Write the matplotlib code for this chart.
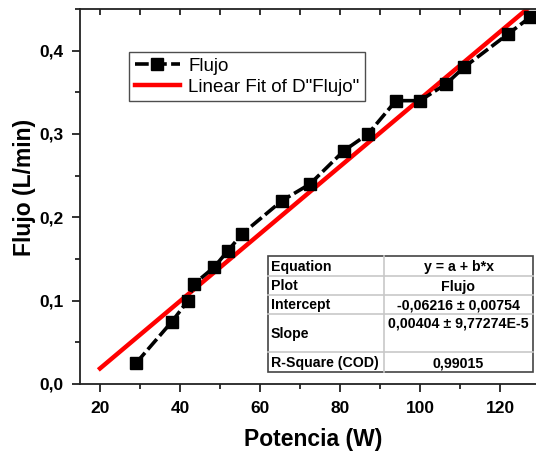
import numpy as np
import matplotlib
matplotlib.use("Agg")
import matplotlib.pyplot as plt
from matplotlib.ticker import MultipleLocator

plt.rcParams['font.family'] = ['Liberation Sans', 'DejaVu Sans']

# datos
potencia = [29, 38, 42, 43.5, 48.5, 52, 55.5, 65.5, 72.5, 81, 87, 94, 100, 106.5, 111, 122, 127.5]
flujo = [0.025, 0.075, 0.10, 0.12, 0.14, 0.16, 0.18, 0.22, 0.24, 0.28, 0.30, 0.34, 0.34, 0.36, 0.38, 0.42, 0.44]

intercept = -0.06216
slope = 0.00404
fit_x = [20, 130]

xticks = [20, 40, 60, 80, 100, 120]
yticks = [0.0, 0.1, 0.2, 0.3, 0.4]
ytick_labels = ['0,0', '0,1', '0,2', '0,3', '0,4']

table_rows = [
    ("Equation", "y = a + b*x"),
    ("Plot", "Flujo"),
    ("Intercept", "-0,06216 \u00b1 0,00754"),
    ("Slope", "0,00404 \u00b1 9,77274E-5"),
    ("R-Square (COD)", "0,99015"),
]

W, H = 536, 455
fig = plt.figure(figsize=(W / 100, H / 100), dpi=100)
ax = fig.add_axes([80 / W, (H - 384) / H, 456 / W, 375 / H])

fx = np.array(fit_x, dtype=float)
ax.plot(potencia, flujo, color='black', lw=2.6, ls=(0, (3.8, 1.2)),
        marker='s', ms=8.5, label='Flujo', zorder=3)
ax.plot(fx, intercept + slope * fx, color='red', lw=3.2, label='Linear Fit of D"Flujo"', zorder=2)

ax.set_xlim(15, 129)
ax.set_ylim(0, 0.45)
ax.set_xticks(xticks)
ax.set_xticklabels([str(t) for t in xticks])
ax.set_yticks(yticks)
ax.set_yticklabels(ytick_labels)
ax.xaxis.set_minor_locator(MultipleLocator(10))
ax.yaxis.set_minor_locator(MultipleLocator(0.05))

for s in ['left', 'bottom']:
    ax.spines[s].set_linewidth(1.3)
    ax.spines[s].set_color('#222222')
ax.spines['right'].set_visible(False)
ax.spines['top'].set_linewidth(1.3)
ax.spines['top'].set_color('#222222')

ax.tick_params(which='major', direction='out', length=6, width=1.3, labelsize=12.5, color='#222222', pad=6)
ax.tick_params(which='minor', direction='out', length=3.5, width=1.3, color='#222222')
for lab in ax.get_xticklabels() + ax.get_yticklabels():
    lab.set_fontweight('bold')

top = ax.secondary_xaxis('top')
top.set_xticks(np.arange(20, 130, 10))
top.tick_params(direction='in', length=4.5, width=1.3, labeltop=False, color='#222222')
top.spines['top'].set_visible(False)

ax.set_xlabel('Potencia (W)', fontsize=16.5, fontweight='bold')
ax.set_ylabel('Flujo (L/min)', fontsize=16.5, fontweight='bold')
ax.xaxis.set_label_coords((313 - 80) / 456, -(428 - 384) / 375)
ax.yaxis.set_label_coords(-(80 - 36) / 456, 0.525)

leg = ax.legend(loc='upper left', bbox_to_anchor=((129 - 80) / 456, 1 - (52 - 9) / 375),
                fontsize=13.5, frameon=True, fancybox=False, handlelength=2.4,
                borderpad=0.3, labelspacing=0.2, handletextpad=0.45, borderaxespad=0)
leg.get_frame().set_edgecolor('#222222')
leg.get_frame().set_linewidth(1.0)

# tabla del ajuste (en pixeles de la figura)
tx0, tx1, tcol = 268, 533, 384
row_edges = [256, 276, 295, 314, 352, 372]

def px(x, y):
    return x / W, 1 - y / H

for y in row_edges[1:-1]:
    fig.add_artist(plt.Line2D([px(tx0, y)[0], px(tx1, y)[0]], [px(tx0, y)[1]] * 2,
                              color='#c8c8c8', lw=1.2))
fig.add_artist(plt.Line2D([px(tcol, 0)[0]] * 2, [px(0, row_edges[0])[1], px(0, row_edges[-1])[1]],
                          color='#c8c8c8', lw=1.2))
fig.add_artist(plt.Rectangle(px(tx0, row_edges[-1]), (tx1 - tx0) / W,
                             (row_edges[-1] - row_edges[0]) / H,
                             fill=False, edgecolor='#444444', lw=1.2))

for i, (name, val) in enumerate(table_rows):
    y0, y1 = row_edges[i], row_edges[i + 1]
    ym = (y0 + y1) / 2
    fig.text(*px(tx0 + 3, ym + 1), name, fontsize=10.2, fontweight='bold', va='center', ha='left')
    yv = ym + 1 if name != "Slope" else y0 + 10
    fig.text(*px((tcol + tx1) / 2, yv), val, fontsize=10.2, fontweight='bold', va='center', ha='center')

fig.savefig('out.png', dpi=100)
